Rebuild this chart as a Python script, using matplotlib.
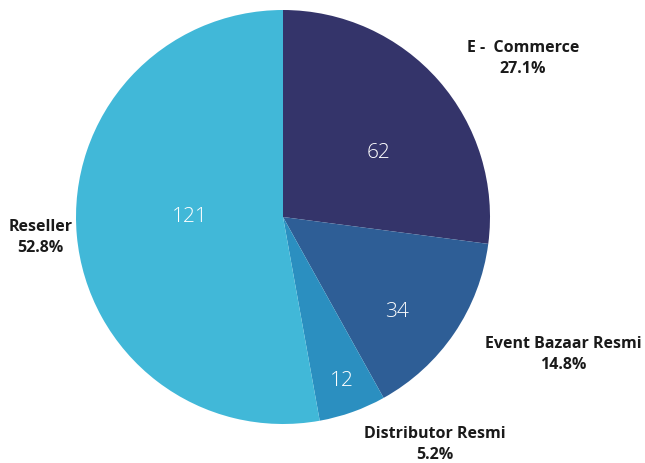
import matplotlib.pyplot as plt
import numpy as np

# channel counts
channels = ['E -  Commerce', 'Event Bazaar Resmi', 'Distributor Resmi', 'Reseller']
counts = [62, 34, 12, 121]
colors = ['#34346a', '#2e5e96', '#2b8fc0', '#41b8d8']

# where each label goes (axes data units, pie radius = 1)
count_pos = [(0.46, 0.31), (0.55, -0.46), (0.285, -0.79), (-0.45, 0.0)]
outer_pos = [(1.16, 0.766), (1.353, -0.664), (0.734, -1.098), (-1.17, -0.099)]

plt.rcParams['font.family'] = ['Open Sans', 'DejaVu Sans']

fig = plt.figure(figsize=(6.45, 4.63), dpi=100)
cx, cy, r = 283, 217, 207
ax = fig.add_axes([(cx - r) / 645, (463 - cy - r) / 463, 2 * r / 645, 2 * r / 463])

wedges, _ = ax.pie(counts, colors=colors, startangle=90, counterclock=False,
                   radius=1, wedgeprops=dict(linewidth=0))
ax.set_xlim(-1, 1)
ax.set_ylim(-1, 1)
ax.set_aspect('equal')
ax.axis('off')

total = float(sum(counts))
for name, n, (x, y), (lx, ly) in zip(channels, counts, count_pos, outer_pos):
    ax.text(x, y, str(n), color='white', fontsize=15, fontweight='light',
            ha='center', va='center')
    ax.text(lx, ly, '%s\n%.1f%%' % (name, 100 * n / total), color='#1a1a1a',
            fontsize=11.5, fontweight='bold', ha='center', va='center',
            linespacing=1.4, clip_on=False)

fig.savefig('out.png', dpi=100)
